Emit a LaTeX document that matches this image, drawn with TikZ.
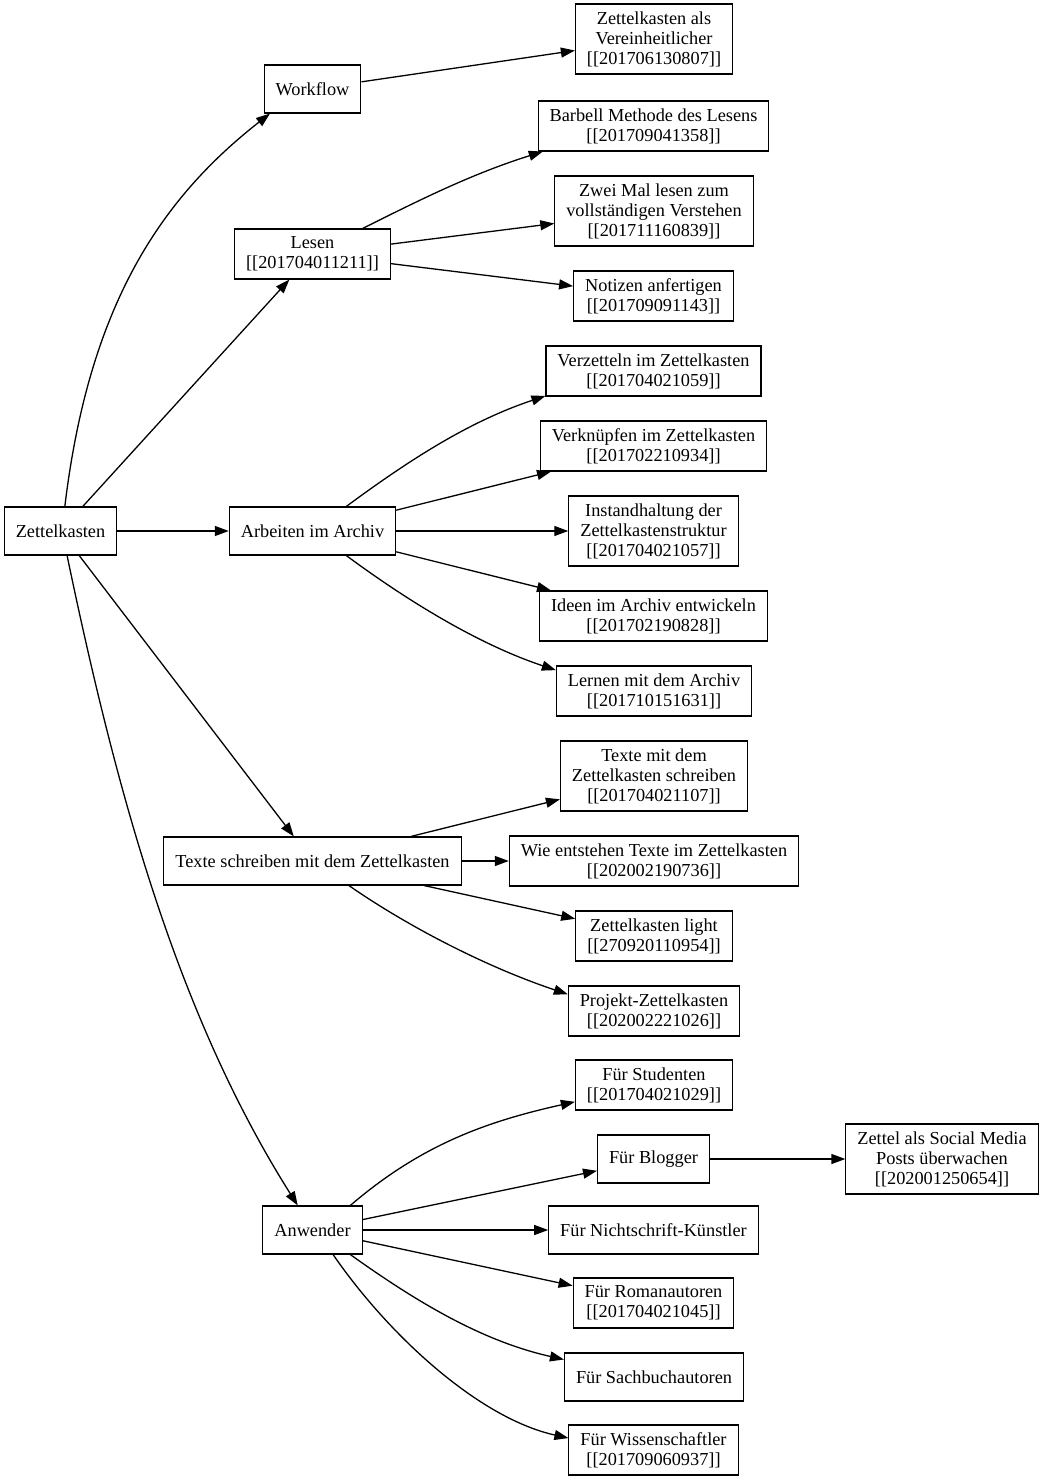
\documentclass[tikz,border=0pt]{standalone}
\usepackage{fontspec}
\setmainfont{Liberation Serif}
\usetikzlibrary{arrows.meta}

\begin{document}
\begin{tikzpicture}[x=1pt, y=-1pt,
  block/.style={draw, line width=1.1pt, align=center, inner xsep=11.5pt, inner ysep=0pt, minimum height=48pt, font=\fontsize{18.3pt}{20pt}\selectfont},
  twoline/.style={minimum height=50pt},
  threeline/.style={minimum height=70pt},
  link/.style={-{Triangle[length=14pt, width=10pt]}, line width=1.3pt}]

  \useasboundingbox (0,0) rectangle (1043,1482);

  % Root and first level
  \node[block] (ZK) at (60.5,531) {Zettelkasten};
  \node[block] (Workflow) at (312.5,89) {Workflow};
  \node[block, twoline] (Lesen) at (312.5,254) {Lesen\\{[[201704011211]]}};
  \node[block, right of=ZK, node distance=252pt] (Archiv) {Arbeiten im Archiv};
  \node[block] (Texte) at (312.5,861) {Texte schreiben mit dem Zettelkasten};
  \node[block] (Anwender) at (312.5,1230) {Anwender};

  % Workflow and Lesen
  \node[block, threeline] (Einheit) at (654,39) {Zettelkasten als\\Vereinheitlicher\\{[[201706130807]]}};
  \node[block, twoline] (Barbell) at (653.5,126) {Barbell Methode des Lesens\\{[[201709041358]]}};
  \node[block, threeline] (ZweiMal) at (654,211) {Zwei Mal lesen zum\\vollständigen Verstehen\\{[[201711160839]]}};
  \node[block, twoline] (Notizen) at (653.5,296) {Notizen anfertigen\\{[[201709091143]]}};

  % Arbeiten im Archiv
  \node[block, twoline] (Verzetteln) at (653.5,371) {Verzetteln im Zettelkasten\\{[[201704021059]]}};
  \node[block, twoline] (Verknuepfen) at (653.5,446) {Verknüpfen im Zettelkasten\\{[[201702210934]]}};
  \node[block, threeline, right of=Archiv, node distance=341pt] (Struktur) {Instandhaltung der\\Zettelkastenstruktur\\{[[201704021057]]}};
  \node[block, twoline] (Ideen) at (653.5,616) {Ideen im Archiv entwickeln\\{[[201702190828]]}};
  \node[block, twoline] (Lernen) at (654,691) {Lernen mit dem Archiv\\{[[201710151631]]}};

  % Texte schreiben
  \node[block, threeline] (TexteMit) at (654,776) {Texte mit dem\\Zettelkasten schreiben\\{[[201704021107]]}};
  \node[block, twoline, right of=Texte, node distance=341.5pt] (Entstehen) {Wie entstehen Texte im Zettelkasten\\{[[202002190736]]}};
  \node[block, twoline] (Light) at (654,936) {Zettelkasten light\\{[[270920110954]]}};
  \node[block, twoline] (Projekt) at (654,1011) {Projekt-Zettelkasten\\{[[202002221026]]}};

  % Anwender
  \node[block, twoline] (Studenten) at (654,1085) {Für Studenten\\{[[201704021029]]}};
  \node[block] (Blogger) at (653.5,1159) {Für Blogger};
  \node[block, right of=Anwender, node distance=341pt] (Kuenstler) {Für Nichtschrift-Künstler};
  \node[block, twoline] (Roman) at (653.5,1303) {Für Romanautoren\\{[[201704021045]]}};
  \node[block] (Sachbuch) at (654,1377) {Für Sachbuchautoren};
  \node[block, twoline] (Wissenschaft) at (653.5,1450) {Für Wissenschaftler\\{[[201709060937]]}};
  \node[block, threeline, right of=Blogger, node distance=288.5pt] (Social) {Zettel als Social Media\\Posts überwachen\\{[[202001250654]]}};

  % Arrows from the root
  \draw[link] (ZK.80) .. controls +(24,-200) and +(-110,86) .. (Workflow.210);
  \draw[link] (ZK) -- (Lesen);
  \draw[link] (ZK) -- (Archiv);
  \draw[link] (ZK) -- (Texte);
  \draw[link] (ZK.285) .. controls +(50,240) and +(-120,-190) .. (Anwender.121);

  % Workflow and Lesen
  \draw[link] (Workflow) -- (Einheit);
  \draw[link] (Lesen.27) .. controls +(60,-30) and +(-70,22) .. (Barbell.193);
  \draw[link] (Lesen) -- (ZweiMal);
  \draw[link] (Lesen) -- (Notizen);

  % Arbeiten im Archiv
  \draw[link] (Archiv.36) .. controls +(65,-48) and +(-75,25) .. (Verzetteln.193);
  \draw[link] (Archiv) -- (Verknuepfen);
  \draw[link] (Archiv) -- (Struktur);
  \draw[link] (Archiv) -- (Ideen);
  \draw[link] (Archiv.324) .. controls +(65,48) and +(-75,-25) .. (Lernen.168);

  % Texte schreiben
  \draw[link] (Texte) -- (TexteMit);
  \draw[link] (Texte) -- (Entstehen);
  \draw[link] (Texte) -- (Light);
  \draw[link] (Texte.326) .. controls +(65,45) and +(-75,-25) .. (Projekt.169);

  % Anwender
  \draw[link] (Anwender.33) .. controls +(70,-60) and +(-90,20) .. (Studenten.192);
  \draw[link] (Anwender) -- (Blogger);
  \draw[link] (Anwender) -- (Kuenstler);
  \draw[link] (Anwender) -- (Roman);
  \draw[link] (Anwender.327) .. controls +(70,50) and +(-80,-18) .. (Sachbuch.169);
  \draw[link] (Anwender.310) .. controls +(55,80) and +(-90,-20) .. (Wissenschaft.172);
  \draw[link] (Blogger) -- (Social);

\end{tikzpicture}
\end{document}
